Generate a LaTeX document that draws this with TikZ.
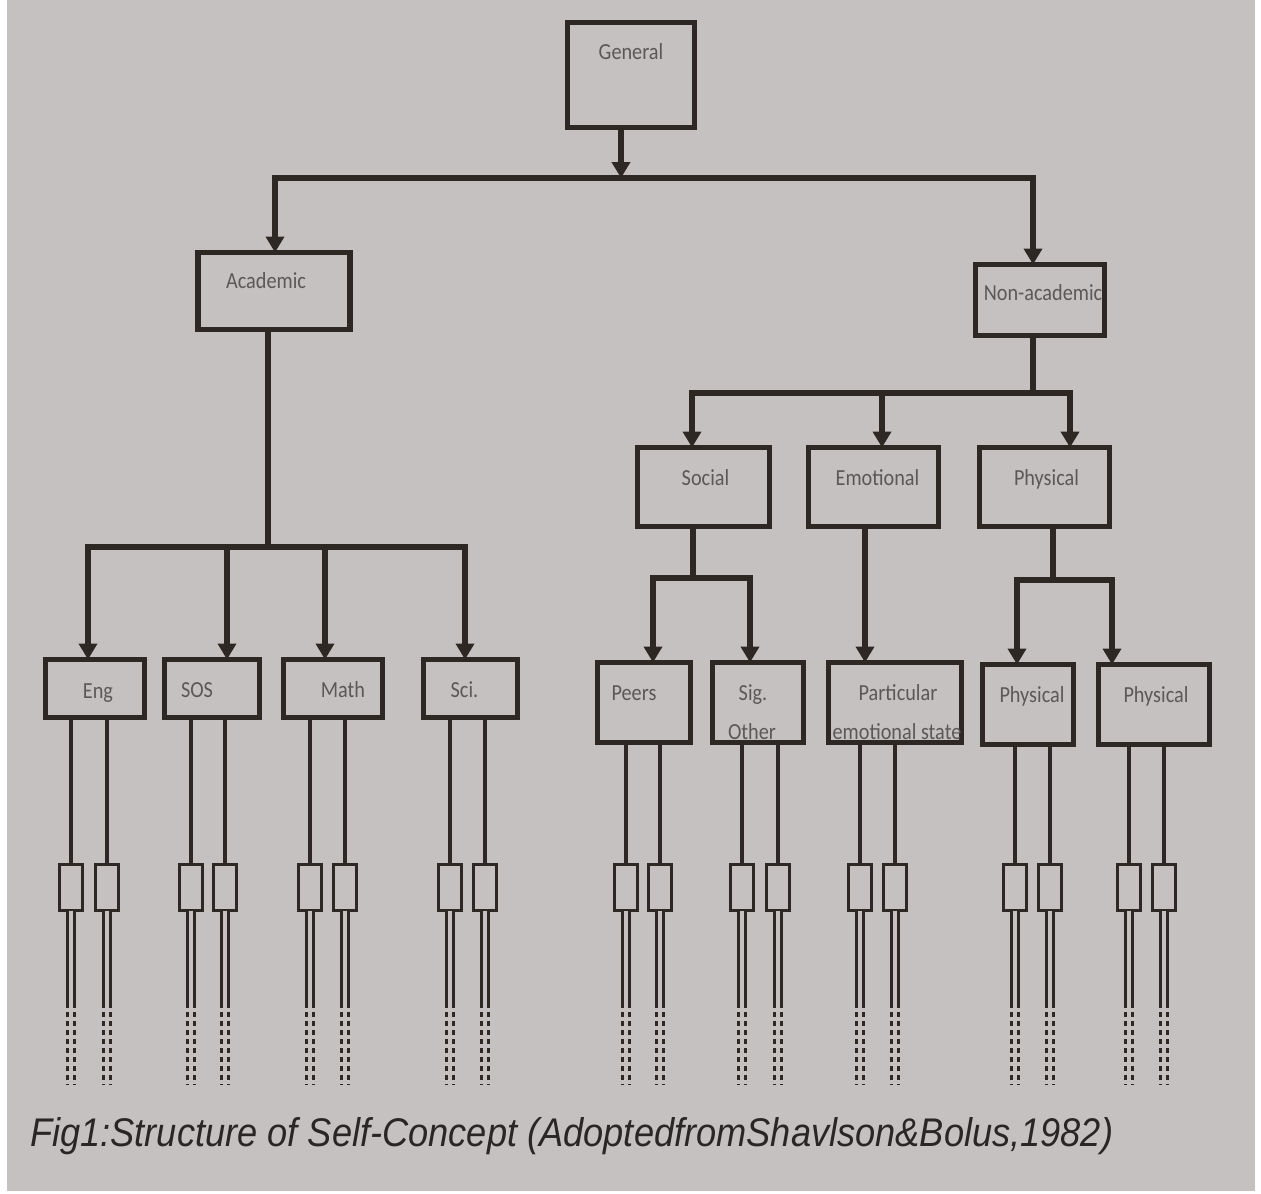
\documentclass[tikz,border=0pt]{standalone}
\usepackage{fontspec}
\setmainfont{Carlito}
\newfontfamily\boxfont[FakeStretch=0.88]{Carlito}
\newfontfamily\capfont{Liberation Sans}
\usetikzlibrary{arrows.meta,calc}
\definecolor{bgc}{RGB}{198,193,193}
\definecolor{ink}{RGB}{45,40,36}
\definecolor{txt}{RGB}{92,88,88}
\definecolor{capc}{RGB}{42,38,38}
\begin{document}
\begin{tikzpicture}[x=1pt,y=-1pt,
  box/.style={draw=ink, line width=5.5pt, inner sep=0pt, outer sep=0pt},
  sbox/.style={draw=ink, line width=2.8pt, minimum width=23pt, minimum height=46pt, inner sep=0pt, outer sep=0pt},
  ln/.style={draw=ink, line width=5.5pt, line cap=rect},
  arr/.style={draw=ink, line width=5.5pt, -{Triangle[width=18pt,length=16pt]}},
  thinln/.style={draw=ink, line width=3.6pt},
  dbl/.style={draw=ink, line width=2.3pt, double=bgc, double distance=4.5pt},
  dbld/.style={dbl, dash pattern=on 5pt off 4pt},
  lbl/.style={text=txt, font=\boxfont\fontsize{23}{26}\selectfont, inner sep=0pt, anchor=base}
]
% background / margins
\fill[white] (0,0) rectangle (1261,1194);
\fill[bgc] (7,0) rectangle (1255,1191);
\useasboundingbox (0,0) rectangle (1261,1194);

% main boxes
\node[box, minimum width=127pt, minimum height=105pt] (gen) at (631,75) {};
\node[box, minimum width=152pt, minimum height=77pt] (acad) at (274,291) {};
\node[box, minimum width=129pt, minimum height=71pt] (nonac) at (1040,300) {};
\node[box, minimum width=132pt, minimum height=79pt] (social) at (703.5,487) {};
\node[box, minimum width=130pt, minimum height=79pt] (emot) at (873.5,487) {};
\node[box, minimum width=130pt, minimum height=79pt] (phys) at (1044.5,487) {};
\node[box, minimum width=99pt, minimum height=58pt] (eng) at (95,688.5) {};
\node[box, minimum width=95pt, minimum height=58pt] (sos) at (212,688.5) {};
\node[box, minimum width=99pt, minimum height=58pt] (math) at (333,688.5) {};
\node[box, minimum width=94pt, minimum height=58pt] (sci) at (470.5,688.5) {};
\node[box, minimum width=93pt, minimum height=80pt] (peers) at (644,702.5) {};
\node[box, minimum width=91pt, minimum height=80pt] (sig) at (758,702.5) {};
\node[box, minimum width=133pt, minimum height=80pt] (part) at (895,702.5) {};
\node[box, minimum width=91pt, minimum height=80pt] (ph1) at (1028,704.5) {};
\node[box, minimum width=111pt, minimum height=80pt] (ph2) at (1154,704.5) {};

% labels
\node[lbl] at ($(gen.north)+(0,37)$) {General};
\node[lbl] at ($(acad.north)+(-8,36)$) {Academic};
\node[lbl] at ($(nonac.north)+(3,36)$) {Non-academic};
\node[lbl] at ($(social.north)+(2,38)$) {Social};
\node[lbl] at ($(emot.north)+(4,38)$) {Emotional};
\node[lbl] at ($(phys.north)+(2,38)$) {Physical};
\node[lbl] at ($(eng.north)+(3,39)$) {Eng};
\node[lbl] at ($(sos.north)+(-15,38)$) {SOS};
\node[lbl] at ($(math.north)+(10,38)$) {Math};
\node[lbl] at ($(sci.north)+(-6,38)$) {Sci.};
\node[lbl] at ($(peers.north)+(-10,38)$) {Peers};
\node[lbl] at ($(sig.north)+(-5,38)$) {Sig.};
\node[lbl] at ($(sig.north)+(-6,77)$) {Other};
\node[lbl] at ($(part.north)+(3,38)$) {Particular};
\node[lbl] at ($(part.north)+(2,77)$) {emotional state};
\node[lbl] at ($(ph1.north)+(4,38)$) {Physical};
\node[lbl] at ($(ph2.north)+(2,38)$) {Physical};

% level 1 connectors
\coordinate (j0) at (621,178);
\coordinate (ja) at (275,178);
\coordinate (jn) at (1033,178);
\draw[arr] (gen.south -| j0) -- (j0);
\draw[ln] (ja) -- (jn);
\draw[arr] (ja) -- (ja |- acad.north);
\draw[arr] (jn) -- (jn |- nonac.north);

% academic branch
\coordinate (k0) at (268,547);
\coordinate (k1) at (88,547);
\coordinate (k2) at (227,547);
\coordinate (k3) at (325,547);
\coordinate (k4) at (465,547);
\draw[ln] (acad.south -| k0) -- (k0);
\draw[ln] (k1) -- (k4);
\draw[arr] (k1) -- (k1 |- eng.north);
\draw[arr] (k2) -- (k2 |- sos.north);
\draw[arr] (k3) -- (k3 |- math.north);
\draw[arr] (k4) -- (k4 |- sci.north);

% non-academic branch
\coordinate (m0) at (1033,393);
\coordinate (m1) at (692,393);
\coordinate (m2) at (882,393);
\coordinate (m3) at (1070,393);
\draw[ln] (nonac.south -| m0) -- (m0);
\draw[ln] (m1) -- (m3);
\draw[arr] (m1) -- (m1 |- social.north);
\draw[arr] (m2) -- (m2 |- emot.north);
\draw[arr] (m3) -- (m3 |- phys.north);

% social
\coordinate (s0) at (693,578);
\coordinate (s1) at (653,578);
\coordinate (s2) at (750,578);
\draw[ln] (social.south -| s0) -- (s0);
\draw[ln] (s1) -- (s2);
\draw[arr] (s1) -- (s1 |- peers.north);
\draw[arr] (s2) -- (s2 |- sig.north);

% emotional
\coordinate (e0) at (865,600);
\draw[arr] (emot.south -| e0) -- (part.north -| e0);

% physical
\coordinate (p0) at (1053,580);
\coordinate (p1) at (1017,580);
\coordinate (p2) at (1112,580);
\draw[ln] (phys.south -| p0) -- (p0);
\draw[ln] (p1) -- (p2);
\draw[arr] (p1) -- (p1 |- ph1.north);
\draw[arr] (p2) -- (p2 |- ph2.north);

% small boxes and their lines
\coordinate (ys) at (0,1003);
\coordinate (ye) at (0,1085);
\foreach \p/\xa/\xb in {eng/71/107, sos/191/225, math/310/345, sci/450/485,
                       peers/626/660, sig/742/778, part/860/895, ph1/1015/1050, ph2/1129/1164}{
  \node[sbox] (\p-a) at (\xa,887.5) {};
  \node[sbox] (\p-b) at (\xb,887.5) {};
  \draw[thinln] (\p.south -| \p-a.north) -- (\p-a.north);
  \draw[thinln] (\p.south -| \p-b.north) -- (\p-b.north);
  \draw[dbl] (\p-a.south) -- (\p-a.south |- ys);
  \draw[dbl] (\p-b.south) -- (\p-b.south |- ys);
  \draw[dbld] (\p-a.south |- ys) -- (\p-a.south |- ye);
  \draw[dbld] (\p-b.south |- ys) -- (\p-b.south |- ye);
}

% caption
\node[anchor=base west, text=capc, inner sep=0pt] (cap) at (30,1146)
  {\resizebox{1083pt}{\height}{\capfont\itshape\fontsize{40}{48}\selectfont Fig1:Structure of Self-Concept (AdoptedfromShavlson\&Bolus,1982)}};
\end{tikzpicture}
\end{document}
